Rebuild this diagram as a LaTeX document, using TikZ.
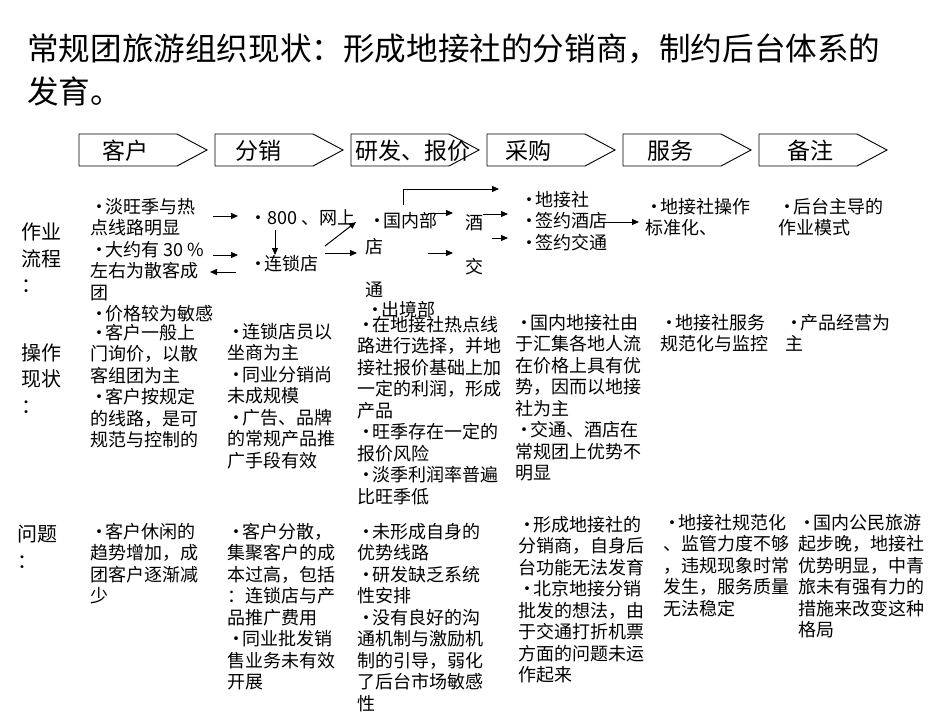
\documentclass[tikz,border=0pt]{standalone}
\usepackage{fontspec}
\setmainfont{Noto Sans CJK SC}
\usetikzlibrary{arrows.meta}
\newcommand{\bu}{\makebox[15pt][l]{•}}
\begin{document}
\begin{tikzpicture}[x=1pt,y=-1pt,
  txt/.style={anchor=north west,inner sep=0pt,align=left,font=\fontsize{18}{21.5}\selectfont},
  one/.style={anchor=west,inner sep=0pt,font=\fontsize{18}{21.5}\selectfont},
  lbl/.style={anchor=north west,inner sep=0pt,align=left,font=\fontsize{20}{26.5}\selectfont},
  hdr/.style={inner sep=0pt,font=\fontsize{23}{23}\selectfont},
  chev/.style={draw=black,line width=0.9pt,fill=white},
  arr/.style={-{Triangle[length=7pt,width=6pt]},line width=1pt},
]
\useasboundingbox (0,0) rectangle (950,713);

% title
\node[anchor=north west,inner sep=0pt,align=left,font=\fontsize{31.6}{43}\selectfont] (title) at (27,34)
  {常规团旅游组织现状：形成地接社的分销商，制约后台体系的\\发育。};

% header chevrons
\foreach \x in {79,215,351,487,623,759}{
  \draw[chev] (\x,134) -- ++(98,0) -- ++(30,16) -- ++(-30,16) -- ++(-98,0) -- cycle;
}
\node[hdr] (h1) at (125,151) {客户};
\node[hdr] (h2) at (258,151) {分销};
\node[hdr,anchor=west] (h3) at (355,151) {研发、报价};
\node[hdr] (h4) at (528,151) {采购};
\node[hdr] (h5) at (670,151) {服务};
\node[hdr] (h6) at (810,151) {备注};

% row labels
\node[lbl] (l1) at (21,223) {作业\\流程\\：};
\node[lbl] (l2) at (21,343) {操作\\现状\\：};
\node[lbl] (l3) at (17,525) {问题\\：};

% row 1
\node[txt] (r1c1) at (90,198) {\bu 淡旺季与热\\点线路明显\\\bu 大约有 30 \%\\左右为散客成\\团\\\bu 价格较为敏感};
\node[one] (web) at (249,218) {•800 、网上};
\node[one] (chain) at (249,264) {\bu 连锁店};
\node[one] (dom) at (368,221) {\bu 国内部};
\node[one] (dian) at (365,247) {店};
\node[one] (tong) at (365,290) {通};
\node[one] (out) at (366,310) {\bu 出境部};
\node[one] (jiu) at (465,223) {酒};
\node[one] (jiao) at (465,267) {交};
\node[txt] (r1c4) at (520,191) {\bu 地接社\\\bu 签约酒店\\\bu 签约交通};
\node[txt] (r1c5) at (645,198) {\bu 地接社操作\\标准化、};
\node[txt] (r1c6) at (778,198) {\bu 后台主导的\\作业模式};

% arrows row 1
\coordinate (a1s) at (213,216); \coordinate (a1e) at (238,216);
\coordinate (a2s) at (213,255); \coordinate (a2e) at (238,255);
\coordinate (a3s) at (236,272); \coordinate (a3e) at (210,272);
\coordinate (a4s) at (275,230); \coordinate (a4e) at (275,255);
\coordinate (a5s) at (325,246); \coordinate (a5e) at (356,222);
\coordinate (a6s) at (325,253); \coordinate (a6e) at (357,253);
\coordinate (a7s) at (403,205); \coordinate (a7m) at (403,189); \coordinate (a7e) at (499,189);
\coordinate (a8s) at (428,213); \coordinate (a8e) at (453,213);
\coordinate (a9s) at (428,253); \coordinate (a9e) at (453,253);
\coordinate (a10s) at (483,214); \coordinate (a10e) at (508,214);
\coordinate (a11s) at (492,238); \coordinate (a11e) at (508,238);
\coordinate (a12s) at (595,222); \coordinate (a12e) at (639,222);
\draw[arr] (a1s) -- (a1e);
\draw[arr] (a2s) -- (a2e);
\draw[arr] (a3s) -- (a3e);
\draw[arr] (a4s) -- (a4e);
\draw[arr] (a5s) -- (a5e);
\draw[arr] (a6s) -- (a6e);
\draw[arr] (a7s) -- (a7m) -- (a7e);
\draw[arr] (a8s) -- (a8e);
\draw[arr] (a9s) -- (a9e);
\draw[arr] (a10s) -- (a10e);
\draw[arr] (a11s) -- (a11e);
\draw[arr] (a12s) -- (a12e);

% row 2
\node[txt] (r2c1) at (90,324) {\bu 客户一般上\\门询价，以散\\客组团为主\\\bu 客户按规定\\的线路，是可\\规范与控制的};
\node[txt] (r2c2) at (227,323) {\bu 连锁店员以\\坐商为主\\\bu 同业分销尚\\未成规模\\\bu 广告、品牌\\的常规产品推\\广手段有效};
\node[txt] (r2c3) at (357,316) {\bu 在地接社热点线\\路进行选择，并地\\接社报价基础上加\\一定的利润，形成\\产品\\\bu 旺季存在一定的\\报价风险\\\bu 淡季利润率普遍\\比旺季低};
\node[txt] (r2c4) at (515,314) {\bu 国内地接社由\\于汇集各地人流\\在价格上具有优\\势，因而以地接\\社为主\\\bu 交通、酒店在\\常规团上优势不\\明显};
\node[txt] (r2c5) at (660,314) {\bu 地接社服务\\规范化与监控};
\node[txt] (r2c6) at (785,314) {\bu 产品经营为\\主};

% row 3
\node[txt] (r3c1) at (90,523) {\bu 客户休闲的\\趋势增加，成\\团客户逐渐减\\少};
\node[txt] (r3c2) at (227,523) {\bu 客户分散，\\集聚客户的成\\本过高，包括\\：连锁店与产\\品推广费用\\\bu 同业批发销\\售业务未有效\\开展};
\node[txt] (r3c3) at (357,523) {\bu 未形成自身的\\优势线路\\\bu 研发缺乏系统\\性安排\\\bu 没有良好的沟\\通机制与激励机\\制的引导，弱化\\了后台市场敏感\\性};
\node[txt] (r3c4) at (518,516) {\bu 形成地接社的\\分销商，自身后\\台功能无法发育\\\bu 北京地接分销\\批发的想法，由\\于交通打折机票\\方面的问题未运\\作起来};
\node[txt] (r3c5) at (663,514) {\bu 地接社规范化\\、监管力度不够\\，违规现象时常\\发生，服务质量\\无法稳定};
\node[txt] (r3c6) at (798,514) {\bu 国内公民旅游\\起步晚，地接社\\优势明显，中青\\旅未有强有力的\\措施来改变这种\\格局};
\end{tikzpicture}
\end{document}
